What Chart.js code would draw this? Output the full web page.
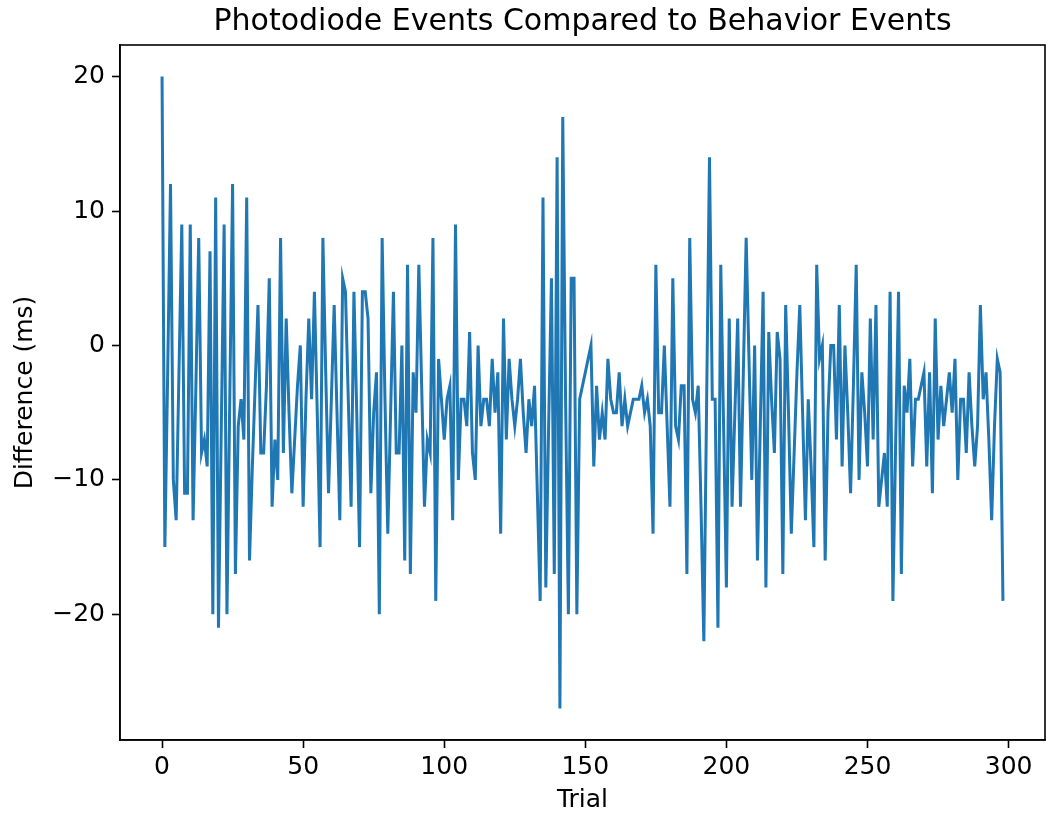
<!DOCTYPE html>
<html>
<head>
<meta charset="utf-8">
<script src="https://cdn.jsdelivr.net/npm/chart.js@4.4.0/dist/chart.umd.min.js"></script>
<style>
html, body { margin: 0; padding: 0; background: #fff; }
</style>
</head>
<body>
<canvas id="diffChart" width="1050" height="818"></canvas>
<script>
var titleText = 'Photodiode Events Compared to Behavior Events';
var xLabel = 'Trial';
var yLabel = 'Difference (ms)';
var xTicks = [0, 50, 100, 150, 200, 250, 300];
var yTicks = [-20, -10, 0, 10, 20];

// difference per trial (ms), trial 0..298
var differenceMs = [
    20, -15, -2, 12, -10, -13, -2, 9, -11, -11,
    9, -13, -3, 8, -8, -7, -9, 7, -20, 11,
    -21, -6, 9, -20, -4, 12, -17, -6, -4, -7,
    11, -16, -9, -3, 3, -8, -8, -3, 5, -12,
    -7, -10, 8, -8, 2, -5, -11, -7, -3, 0,
    -12, -4, 2, -4, 4, -5, -15, 8, -2, -11,
    -4, 3, -5, -13, 5, 4, -4, -12, 4, -5,
    -15, 4, 4, 2, -11, -5, -2, -20, 8, -4,
    -14, -5, 4, -8, -8, 0, -16, 6, -17, -2,
    -5, 6, -3, -12, -7, -8, 8, -19, -1, -4,
    -7, -4, -3, -13, 9, -10, -4, -4, -6, 1,
    -8, -10, 0, -6, -4, -4, -6, -1, -5, -2,
    -14, 2, -7, -1, -4, -6, -4, -1, -5, -8,
    -4, -6, -3, -11, -19, 11, -18, -6, 5, -17,
    14, -27, 17, -4, -20, 5, 5, -20, -4, -3,
    -2, -1, 0, -9, -3, -7, -5, -7, -1, -4,
    -5, -5, -2, -6, -4, -6, -5, -4, -4, -4,
    -3, -5, -4, -6, -14, 6, -5, -5, 0, -6,
    -12, 5, -6, -7, -3, -3, -17, 8, -4, -5,
    -3, -12, -22, -4, 14, -4, -4, -21, 6, -6,
    -18, 2, -12, -5, 2, -12, -2, 8, -1, -10,
    0, -16, -6, 4, -18, 1, -4, -8, 1, -1,
    -17, 3, -5, -14, -8, -2, 3, -5, -13, -4,
    -9, -15, 6, -1, 0, -16, -5, 0, 0, -7,
    3, -9, 0, -5, -11, -3, 6, -10, -2, -5,
    -9, 2, -7, 3, -12, -10, -8, -12, 4, -19,
    -7, 4, -17, -3, -5, -1, -9, -4, -4, -3,
    -2, -9, -2, -11, 2, -7, -3, -6, -4, -2,
    -5, -1, -10, -4, -4, -8, -2, -6, -9, -6,
    3, -4, -2, -7, -13, -6, -1, -2, -19
];

var points = differenceMs.map(function(v, i) { return {x: i, y: v}; });

function minusSign(v) {
    return String(v).replace('-', '\u2212');
}

// matplotlib-style box round the plot area
var framePlugin = {
    id: 'frame',
    afterDraw: function(chart) {
        var a = chart.chartArea;
        var ctx = chart.ctx;
        ctx.save();
        ctx.strokeStyle = '#000';
        ctx.lineWidth = 1.6;
        ctx.strokeRect(a.left, a.top, a.right - a.left, a.bottom - a.top);
        ctx.restore();
    }
};

Chart.defaults.font.family = 'DejaVu Sans';
Chart.defaults.color = '#000';

var ctx = document.getElementById('diffChart').getContext('2d');
var diffChart = new Chart(ctx, {
    type: 'line',
    data: {
        datasets: [{
            data: points,
            borderColor: '#1f77b4',
            borderWidth: 3,
            pointRadius: 0,
            tension: 0,
            fill: false
        }]
    },
    options: {
        responsive: false,
        animation: false,
        layout: { padding: { left: 0, right: 5, top: 0, bottom: 0 } },
        plugins: {
            legend: { display: false },
            tooltip: { enabled: false },
            title: {
                display: true,
                fullSize: false,
                text: titleText,
                font: { size: 30, weight: 'normal' },
                padding: { top: 4, bottom: 5 }
            }
        },
        scales: {
            x: {
                type: 'linear',
                min: -14.9,
                max: 312.9,
                afterBuildTicks: function(scale) {
                    scale.ticks = xTicks.map(function(v) { return {value: v}; });
                },
                afterFit: function(scale) { scale.height = 78; },
                ticks: { font: { size: 25 }, padding: 4, maxRotation: 0, callback: minusSign },
                grid: { display: true, drawOnChartArea: false, drawTicks: true, tickLength: 8, tickWidth: 1.6, color: '#000' },
                border: { display: true, color: '#000', width: 1.6 },
                title: { display: true, text: xLabel, font: { size: 25 }, padding: { top: 0, bottom: 3 } }
            },
            y: {
                type: 'linear',
                min: -29.35,
                max: 22.35,
                afterBuildTicks: function(scale) {
                    scale.ticks = yTicks.map(function(v) { return {value: v}; });
                },
                afterFit: function(scale) { scale.width = 120; },
                ticks: { font: { size: 25 }, padding: 7, callback: minusSign },
                grid: { display: true, drawOnChartArea: false, drawTicks: true, tickLength: 8, tickWidth: 1.6, color: '#000' },
                border: { display: true, color: '#000', width: 1.6 },
                title: { display: true, text: yLabel, font: { size: 25 }, padding: { top: 10, bottom: 0 } }
            }
        }
    },
    plugins: [framePlugin]
});
</script>
</body>
</html>
